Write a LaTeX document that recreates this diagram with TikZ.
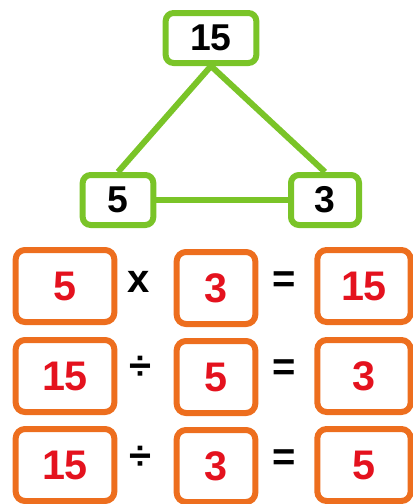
\documentclass[tikz,border=0pt]{standalone}
\usepackage{fontspec}
\setmainfont{Liberation Sans}
\definecolor{leafgreen}{RGB}{122,196,40}
\definecolor{tileorange}{RGB}{237,110,30}
\definecolor{digitred}{RGB}{228,18,30}
\tikzset{
    greenbox/.style={draw=leafgreen, line width=4.5pt, rounded corners=6pt,
        minimum height=37.5pt, font=\bfseries\fontsize{28}{28}\selectfont},
    orangebox/.style={draw=tileorange, line width=4.5pt, rounded corners=7pt,
        minimum height=54pt, text=digitred, font=\bfseries\fontsize{31}{31}\selectfont},
    sign/.style={inner sep=0pt, font=\bfseries\fontsize{30}{30}\selectfont}
}

\begin{document}
\begin{tikzpicture}[x=0.75pt, y=-0.75pt]
    \useasboundingbox (0,0) rectangle (412,504);
    \node[greenbox, minimum width=68pt] (top) at (211,38) {15};
    \node[greenbox, minimum width=53pt] (left) at (118,200) {5};
    \node[greenbox, minimum width=51pt] (right) at (325,200) {3};
    \draw[leafgreen, line width=4.5pt] (top.south) -- (left.north);
    \draw[leafgreen, line width=4.5pt] (top.south) -- (right.north);
    \draw[leafgreen, line width=4.5pt] (left) -- (right);

    \node[orangebox, minimum width=74pt] (a1) at (65,286) {5};
    \node[sign] (o1) at (139,282) {x};
    \node[orangebox, minimum width=59pt] (b1) at (216,288) {3};
    \node[sign] (e1) at (284,282) {=};
    \node[orangebox, minimum width=70pt] (c1) at (364,286) {15};

    \node[orangebox, minimum width=74pt] (a2) at (65,376) {15};
    \node[sign] (o2) at (140,368) {÷};
    \node[orangebox, minimum width=59pt] (b2) at (216,377) {5};
    \node[sign] (e2) at (284,370) {=};
    \node[orangebox, minimum width=70pt] (c2) at (364,376) {3};

    \node[orangebox, minimum width=74pt] (a3) at (65,465) {15};
    \node[sign] (o3) at (140,458) {÷};
    \node[orangebox, minimum width=59pt] (b3) at (216,466) {3};
    \node[sign] (e3) at (284,460) {=};
    \node[orangebox, minimum width=70pt] (c3) at (364,465) {5};
\end{tikzpicture}
\end{document}
